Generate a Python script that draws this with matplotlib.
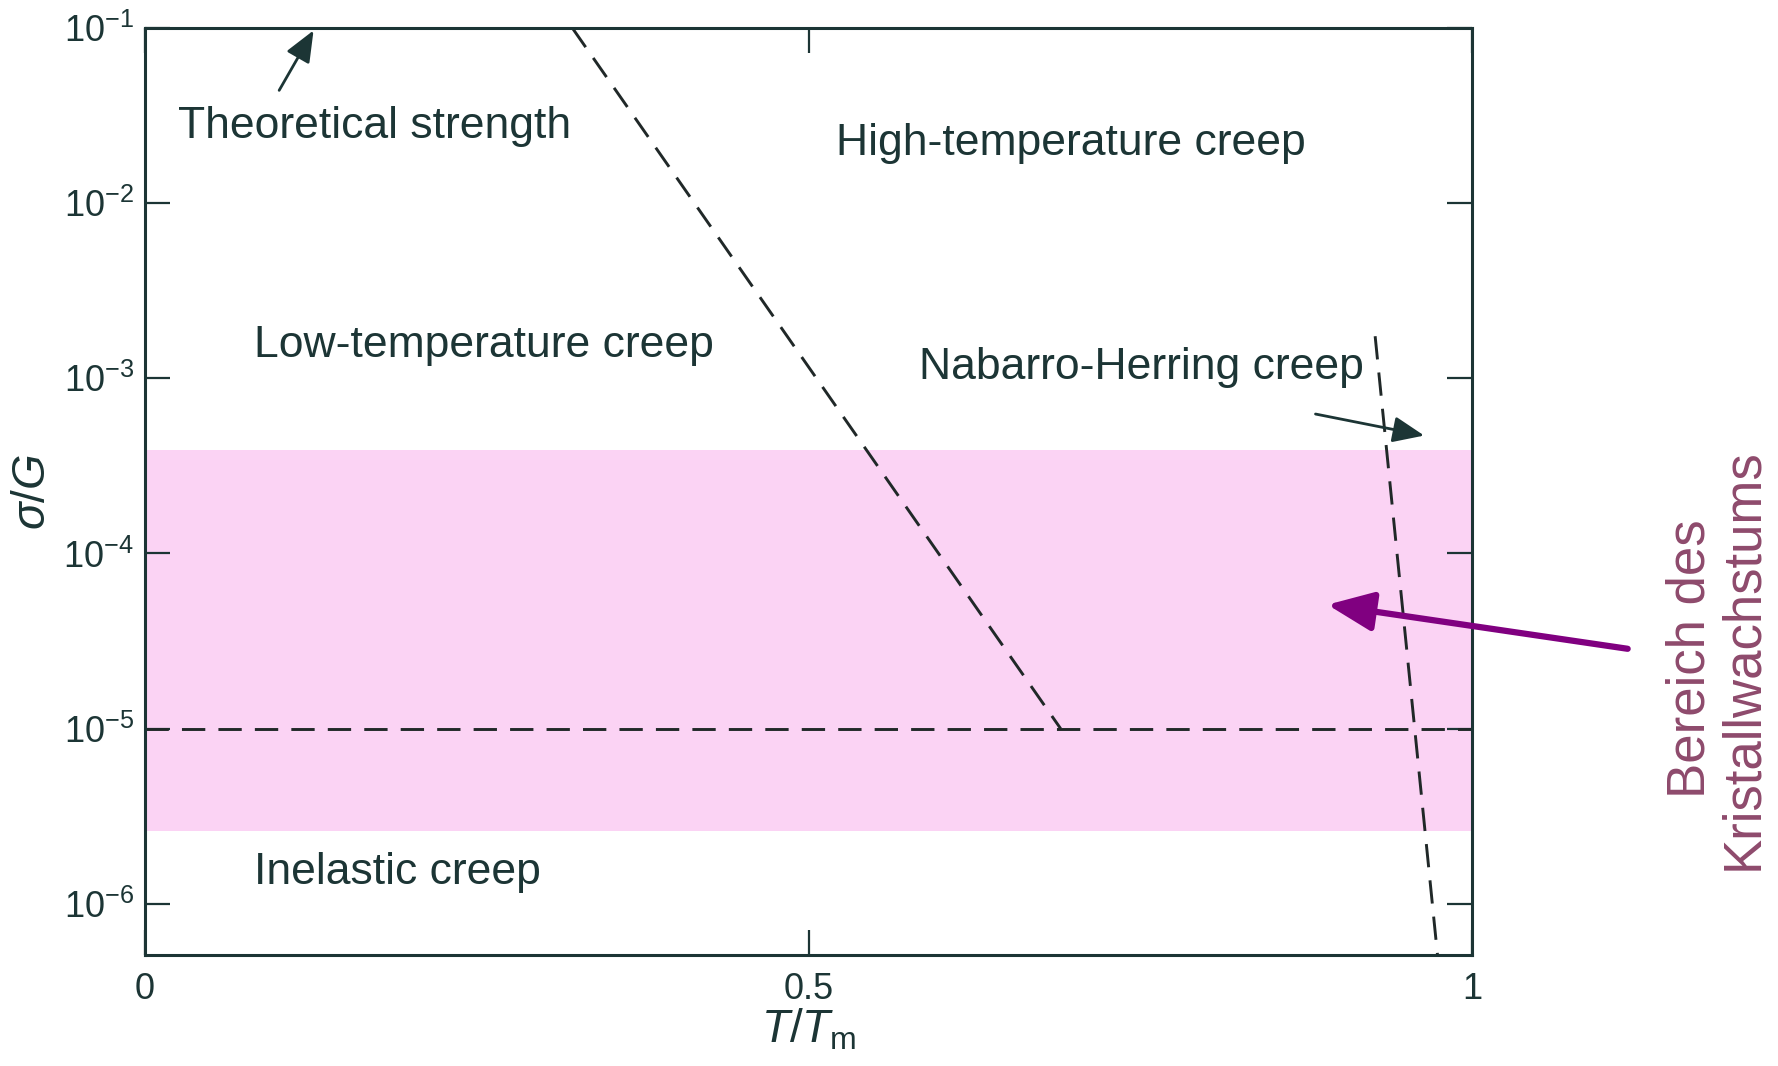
import matplotlib
matplotlib.use("Agg")
import matplotlib.pyplot as plt

plt.rcParams['font.family'] = ['Liberation Sans', 'DejaVu Sans']
plt.rcParams['mathtext.fontset'] = 'custom'
plt.rcParams['mathtext.rm'] = 'Liberation Sans'
plt.rcParams['mathtext.it'] = 'Liberation Sans:italic'
plt.rcParams['mathtext.default'] = 'regular'

# deformation-map boundaries (T/Tm, sigma/G)
lowhigh_x = [0.322, 0.690]
lowhigh_y = [1e-1, 1e-5]
inelastic_x = [0.0, 1.0]
inelastic_y = [1e-5, 1e-5]
nh_x = [0.927, 0.974]
nh_y = [1.74e-3, 5.1e-7]

# growth range band
band_lo, band_hi = 2.6e-6, 3.9e-4

region_names = ["Theoretical strength", "High-temperature creep", "Low-temperature creep",
                "Nabarro-Herring creep", "Inelastic creep"]
region_x = [0.025, 0.521, 0.082, 0.583, 0.082]
region_y = [2.74e-2, 2.18e-2, 1.55e-3, 1.15e-3, 1.5e-6]

yticks = [1e-1, 1e-2, 1e-3, 1e-4, 1e-5, 1e-6]
ytick_labels = ['$10^{-1}$', '$10^{-2}$', '$10^{-3}$', '$10^{-4}$', '$10^{-5}$', '$10^{-6}$']
xticks = [0, 0.5, 1]
xtick_labels = ['0', '0.5', '1']

ink = '#1c3535'

fig = plt.figure(figsize=(17.78, 10.66), dpi=100)
ax = fig.add_axes([0.0816, 0.1041, 0.7463, 0.8696])
ax.set_yscale('log')
ax.set_xlim(0, 1)
ax.set_ylim(5.1e-7, 1e-1)

ax.axhspan(band_lo, band_hi, color='#fbd3f4', lw=0, zorder=0)

dash = dict(color='#202828', lw=2.1, dashes=(8, 4.5))
ax.plot(lowhigh_x, lowhigh_y, **dash)
ax.plot(inelastic_x, inelastic_y, **dash)
ax.plot(nh_x, nh_y, **dash)

for name, x, y in zip(region_names, region_x, region_y):
    ax.text(x, y, name, fontsize=32, color=ink, ha='left', va='center')

arrowstyle = dict(arrowstyle='-|>,head_length=0.6,head_width=0.25', color=ink, lw=2,
                  mutation_scale=32)
ax.annotate('', xy=(0.128, 1e-1), xytext=(0.100, 4.27e-2), arrowprops=arrowstyle,
            annotation_clip=False)
ax.annotate('', xy=(0.966, 4.68e-4), xytext=(0.880, 6.3e-4), arrowprops=arrowstyle)

ax.annotate('', xy=(0.889, 5.13e-5), xycoords='data',
            xytext=(0.917, 0.391), textcoords='figure fraction',
            arrowprops=dict(arrowstyle='-|>,head_length=0.7,head_width=0.3',
                            color='#800080', lw=4.5, mutation_scale=40))

fig.text(0.9655, 0.382, "Bereich des\nKristallwachstums", rotation=90,
         ha='center', va='center', multialignment='center', linespacing=1.05,
         fontsize=38, color='#8e4a6c')

ax.set_yticks(yticks)
ax.set_yticklabels(ytick_labels)
ax.set_xticks(xticks)
ax.set_xticklabels(xtick_labels)
ax.minorticks_off()
ax.tick_params(axis='both', which='major', direction='in', length=18, width=1.6,
               color=ink, labelcolor=ink, labelsize=26, top=True, right=True)
ax.tick_params(axis='x', pad=12)
ax.tick_params(axis='y', pad=8)
for s in ax.spines.values():
    s.set_color(ink)
    s.set_linewidth(2.2)

ax.set_xlabel('$\\mathit{T}$/$\\mathit{T}_\\mathrm{m}$', fontsize=33, color=ink, labelpad=0)
ax.set_ylabel('$\\mathit{\u03c3}$/$\\mathit{G}$', fontsize=33, color=ink, labelpad=6)

fig.savefig('out.png', dpi=100)
